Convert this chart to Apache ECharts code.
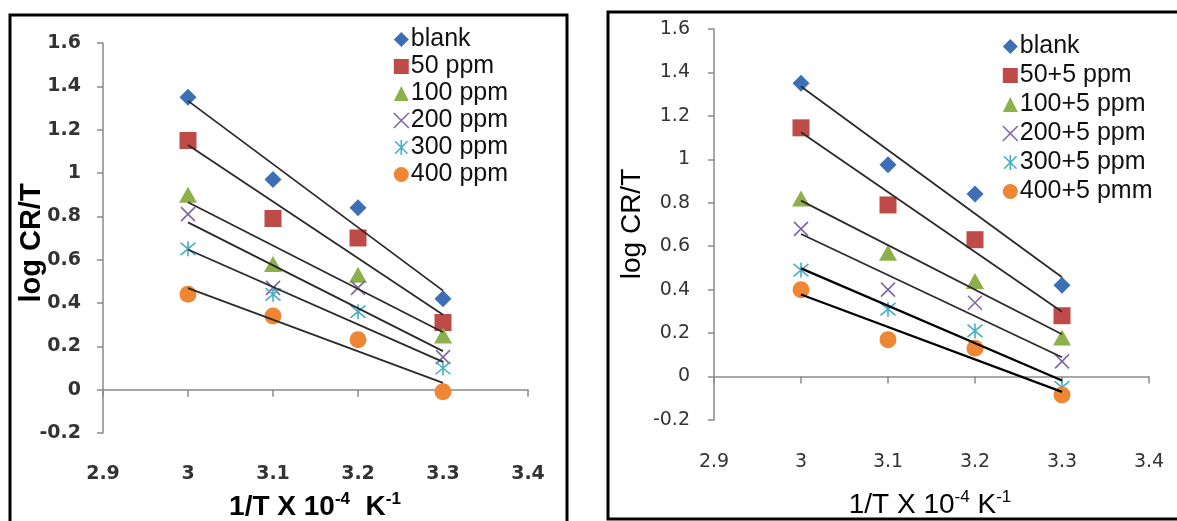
<!DOCTYPE html>
<html>
<head>
<meta charset="utf-8">
<script src="https://cdn.jsdelivr.net/npm/echarts@6/dist/echarts.min.js"></script>
<style>
html,body{margin:0;padding:0;background:#fff;}
#chart{width:1177px;height:521px;}
</style>
</head>
<body>
<div id="chart"></div>
<script>
// ---- data ----
const xValues = [3.0, 3.1, 3.2, 3.3];
const xTicks = [2.9, 3.0, 3.1, 3.2, 3.3, 3.4];
const yTicks = [-0.2, 0, 0.2, 0.4, 0.6, 0.8, 1.0, 1.2, 1.4, 1.6];

const leftNames = ['blank', '50 ppm', '100 ppm', '200 ppm', '300 ppm', '400 ppm'];
const leftBlank = [1.35, 0.97, 0.84, 0.42];
const left50 = [1.15, 0.79, 0.70, 0.31];
const left100 = [0.90, 0.58, 0.53, 0.25];
const left200 = [0.81, 0.47, 0.47, 0.15];
const left300 = [0.65, 0.44, 0.36, 0.10];
const left400 = [0.44, 0.34, 0.23, -0.01];

const rightNames = ['blank', '50+5 ppm', '100+5 ppm', '200+5 ppm', '300+5 ppm', '400+5 pmm'];
const rightBlank = [1.35, 0.975, 0.84, 0.42];
const right50 = [1.145, 0.79, 0.63, 0.28];
const right100 = [0.82, 0.57, 0.44, 0.18];
const right200 = [0.68, 0.40, 0.34, 0.07];
const right300 = [0.49, 0.31, 0.21, -0.05];
const right400 = [0.40, 0.17, 0.13, -0.085];

const leftSeries = [leftBlank, left50, left100, left200, left300, left400];
const rightSeries = [rightBlank, right50, right100, right200, right300, right400];

// ---- styles ----
const colors = ['#3D6FB5', '#BE4B48', '#8DB04A', '#8066A8', '#46AFC8', '#EE8634'];
const xPath = 'path://M0 0 L10 10 M10 0 L0 10';
const starPath = 'path://M0 0 L10 10 M10 0 L0 10 M5 -1 L5 11';
const symbols = ['diamond', 'rect', 'triangle', xPath, starPath, 'circle'];
const symSizes = [[17, 17], [17, 17], [18, 16], [14, 14], [15, 15], [17, 17]];
const stroked = [false, false, false, true, true, false];

function fit(ys) {
  const n = xValues.length;
  const mx = xValues.reduce((a, b) => a + b, 0) / n;
  const my = ys.reduce((a, b) => a + b, 0) / n;
  let sxy = 0, sxx = 0;
  for (let i = 0; i < n; i++) { sxy += (xValues[i] - mx) * (ys[i] - my); sxx += (xValues[i] - mx) ** 2; }
  const b = sxy / sxx, a = my - b * mx;
  const x0 = xValues[0], x1 = xValues[n - 1];
  return [[x0, a + b * x0], [x1, a + b * x1]];
}

function itemStyleFor(i) {
  return stroked[i]
    ? { color: 'rgba(0,0,0,0)', borderColor: colors[i], borderWidth: 1.6, opacity: 1 }
    : { color: colors[i], opacity: 1 };
}

const series = [];
function addSeries(names, data, gi) {
  data.forEach((ys, i) => {
    series.push({
      type: 'scatter', name: names[i], xAxisIndex: gi, yAxisIndex: gi,
      data: ys.map((y, k) => [xValues[k], y]),
      symbol: symbols[i], symbolSize: symSizes[i],
      itemStyle: itemStyleFor(i), z: 2, silent: true
    });
  });
  data.forEach((ys, i) => {
    series.push({
      type: 'line', name: 'fit' + gi + '_' + i, xAxisIndex: gi, yAxisIndex: gi,
      data: fit(ys), showSymbol: false, symbol: 'none',
      lineStyle: { color: (gi === 1 && i >= 4) ? '#000' : '#2a2a2a', width: (gi === 1 && i >= 4) ? 2.2 : 1.8 },
      z: 3, silent: true
    });
  });
}
addSeries(leftNames, leftSeries, 0);
addSeries(rightNames, rightSeries, 1);

const fmt = v => String(Math.round(v * 10) / 10);
function xAxis(gi, bold, margin) {
  return {
    type: 'value', gridIndex: gi, min: xTicks[0], max: xTicks[xTicks.length - 1], interval: 0.1,
    splitLine: { show: false },
    axisLine: { lineStyle: { color: '#8a8a8a', width: 1.5 } },
    axisTick: { length: 7, lineStyle: { color: '#8a8a8a', width: 1.5 } },
    axisLabel: { formatter: fmt, margin: margin, fontFamily: 'DejaVu Sans', fontSize: 19,
      fontWeight: bold ? 'bold' : 'normal', color: '#333' }
  };
}
function yAxis(gi, bold, margin) {
  return {
    type: 'value', gridIndex: gi, min: yTicks[0], max: yTicks[yTicks.length - 1], interval: 0.2,
    splitLine: { show: false },
    axisLine: { show: true, lineStyle: { color: '#8a8a8a', width: 1.5 } },
    axisTick: { show: true, length: 6, lineStyle: { color: '#8a8a8a', width: 1.5 } },
    axisLabel: { formatter: fmt, margin: margin, fontFamily: 'DejaVu Sans', fontSize: 19,
      fontWeight: bold ? 'bold' : 'normal', color: '#333' }
  };
}

function legendFor(names, gi, left, top, lh) {
  return {
    orient: 'vertical', left: left, top: top, itemGap: 0, itemWidth: 15, itemHeight: 15,
    selectedMode: false,
    textStyle: { fontFamily: 'Liberation Sans', fontSize: 25, color: '#111', lineHeight: lh, padding: [0, 0, 0, -3] },
    data: names.map((n, i) => ({ name: n, icon: symbols[i], itemStyle: itemStyleFor(i) }))
  };
}

const titleRich = (w) => ({
  a: { fontFamily: 'Liberation Sans', fontSize: 28, fontWeight: w, fill: '#000', verticalAlign: 'bottom', lineHeight: 30 },
  s: { fontFamily: 'Liberation Sans', fontSize: 17, fontWeight: w, fill: '#000', verticalAlign: 'top', lineHeight: 30, padding: [0, 0, 12, 0] }
});

const option = {
  animation: false,
  backgroundColor: '#fff',
  grid: [
    { left: 103, top: 43, width: 425, height: 390 },
    { left: 714, top: 29, width: 435, height: 391 }
  ],
  xAxis: [xAxis(0, true, 32), xAxis(1, false, 33)],
  yAxis: [yAxis(0, true, 22), yAxis(1, false, 24)],
  legend: [legendFor(leftNames, 0, 388, 21, 27), legendFor(rightNames, 1, 997, 27, 29)],
  series: series,
  graphic: [
    { type: 'rect', shape: { x: 10, y: 15, width: 557, height: 530 }, style: { fill: 'none', stroke: '#000', lineWidth: 3 }, z: 10, silent: true },
    { type: 'rect', shape: { x: 608, y: 12, width: 600, height: 507 }, style: { fill: 'none', stroke: '#000', lineWidth: 3 }, z: 10, silent: true },
    { type: 'text', x: 32, y: 243, rotation: Math.PI / 2,
      style: { text: 'log CR/T', font: 'bold 29px "Liberation Sans"', fill: '#000', align: 'center', verticalAlign: 'middle' }, z: 10 },
    { type: 'text', x: 632, y: 224, rotation: Math.PI / 2,
      style: { text: 'log CR/T', font: '28px "Liberation Sans"', fill: '#000', align: 'center', verticalAlign: 'middle' }, z: 10 },
    { type: 'text', x: 315, y: 506,
      style: { text: '{a|1/T X 10}{s|-4}{a|  K}{s|-1}', rich: titleRich('bold'), align: 'center', verticalAlign: 'middle' }, z: 10 },
    { type: 'text', x: 930, y: 504,
      style: { text: '{a|1/T X 10}{s|-4}{a| K}{s|-1}', rich: titleRich('normal'), align: 'center', verticalAlign: 'middle' }, z: 10 }
  ]
};

const chart = echarts.init(document.getElementById('chart'), null, { renderer: 'canvas' });
chart.setOption(option);
</script>
</body>
</html>
